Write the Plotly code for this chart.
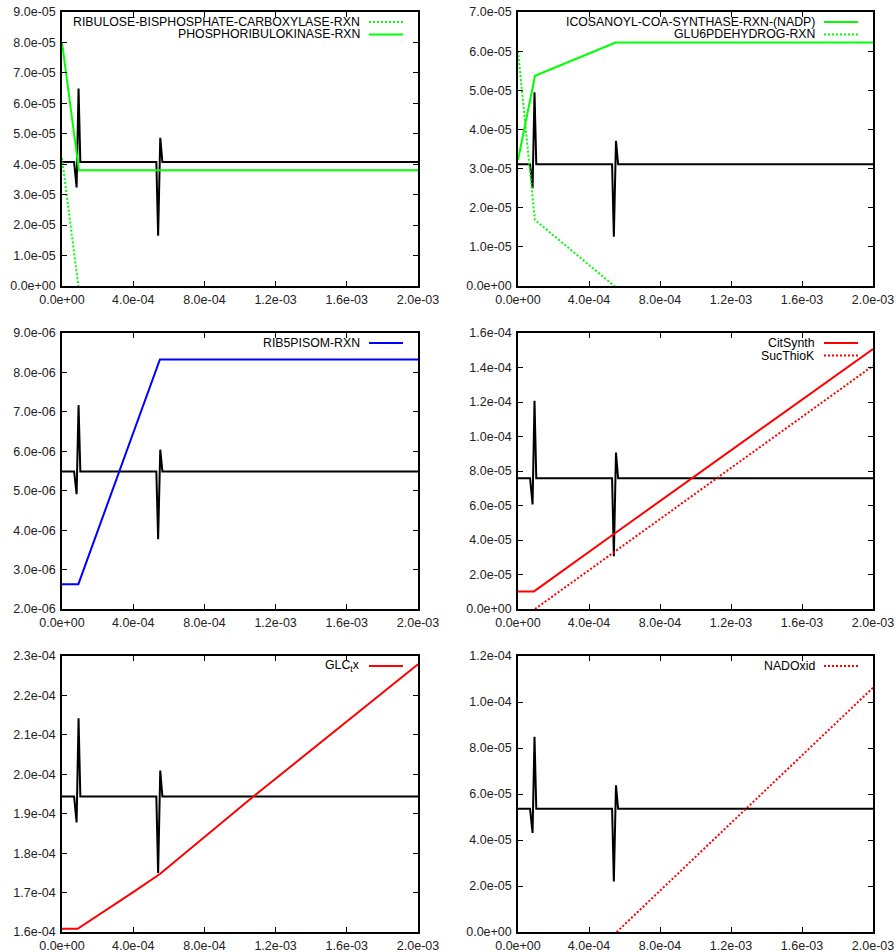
import numpy as np
import plotly.graph_objects as go
from plotly.subplots import make_subplots

# ---------------- data ----------------
t_ref = [0, 6.8e-5, 8.2e-5, 9.3e-5, 1.03e-4, 5.3e-4, 5.4e-4, 5.52e-4, 5.64e-4, 2.0e-3]

ref_p1 = [4.07e-5, 4.07e-5, 3.24e-5, 6.49e-5, 4.07e-5, 4.07e-5, 1.65e-5, 4.87e-5, 4.07e-5, 4.07e-5]
ref_p2 = [3.11e-5, 3.11e-5, 2.50e-5, 4.95e-5, 3.11e-5, 3.11e-5, 1.26e-5, 3.71e-5, 3.11e-5, 3.11e-5]
ref_p3 = [5.49e-6, 5.49e-6, 4.91e-6, 7.17e-6, 5.49e-6, 5.49e-6, 3.77e-6, 6.04e-6, 5.49e-6, 5.49e-6]
ref_p4 = [7.58e-5, 7.58e-5, 6.06e-5, 1.207e-4, 7.58e-5, 7.58e-5, 3.06e-5, 9.07e-5, 7.58e-5, 7.58e-5]
ref_p5 = [1.9435e-4, 1.9435e-4, 1.8777e-4, 2.142e-4, 1.9435e-4, 1.9435e-4, 1.7495e-4, 2.0094e-4, 1.9435e-4, 1.9435e-4]
ref_p6 = [5.355e-5, 5.355e-5, 4.31e-5, 8.49e-5, 5.355e-5, 5.355e-5, 2.20e-5, 6.38e-5, 5.355e-5, 5.355e-5]

rubisco_t = [0, 9.5e-5]
rubisco_v = [4.2e-5, -0.14e-5]
prk_t = [0, 9.5e-5, 2.0e-3]
prk_v = [8.0e-5, 3.8e-5, 3.8e-5]

icosanoyl_t = [0, 9.6e-5, 5.5e-4, 2.0e-3]
icosanoyl_v = [3.22e-5, 5.37e-5, 6.22e-5, 6.22e-5]
g6pdh_t = [0, 9.5e-5, 5.5e-4]
g6pdh_v = [6.0e-5, 1.69e-5, -0.03e-5]

rib5p_t = [0, 9.2e-5, 5.5e-4, 2.0e-3]
rib5p_v = [2.63e-6, 2.63e-6, 8.33e-6, 8.33e-6]

citsynth_t = [0, 9.0e-5, 5.5e-4, 2.0e-3]
citsynth_v = [1.02e-5, 1.02e-5, 4.42e-5, 1.507e-4]
sucthiok_t = [9.6e-5, 5.5e-4, 2.0e-3]
sucthiok_v = [0.0, 3.35e-5, 1.41e-4]

glc_t = [0, 8.8e-5, 4.0e-4, 5.5e-4, 1.075e-3, 2.0e-3]
glc_v = [1.608e-4, 1.608e-4, 1.701e-4, 1.747e-4, 1.9435e-4, 2.279e-4]

nadoxid_t = [5.56e-4, 2.0e-3]
nadoxid_v = [0.0, 1.062e-4]

x_ticks = [0, 4e-4, 8e-4, 1.2e-3, 1.6e-3, 2.0e-3]
y_ranges = [(0, 9e-5, 1e-5), (0, 7e-5, 1e-5), (2e-6, 9e-6, 1e-6),
            (0, 1.6e-4, 2e-5), (1.6e-4, 2.3e-4, 1e-5), (0, 1.2e-4, 2e-5)]

GREEN = "#00ff00"
BLUE = "#0000ff"
RED = "#ff0000"

panels = [
    dict(ref=ref_p1, series=[("RIBULOSE-BISPHOSPHATE-CARBOXYLASE-RXN", rubisco_t, rubisco_v, GREEN, "dot"),
                             ("PHOSPHORIBULOKINASE-RXN", prk_t, prk_v, GREEN, "solid")]),
    dict(ref=ref_p2, series=[("ICOSANOYL-COA-SYNTHASE-RXN-(NADP)", icosanoyl_t, icosanoyl_v, GREEN, "solid"),
                             ("GLU6PDEHYDROG-RXN", g6pdh_t, g6pdh_v, GREEN, "dot")]),
    dict(ref=ref_p3, series=[("RIB5PISOM-RXN", rib5p_t, rib5p_v, BLUE, "solid")]),
    dict(ref=ref_p4, series=[("CitSynth", citsynth_t, citsynth_v, RED, "solid"),
                             ("SucThioK", sucthiok_t, sucthiok_v, RED, "dot")]),
    dict(ref=ref_p5, series=[("GLC<sub>t</sub>x", glc_t, glc_v, RED, "solid")]),
    dict(ref=ref_p6, series=[("NADOxid", nadoxid_t, nadoxid_v, RED, "dot")]),
]

# ---------------- layout geometry ----------------
W, H = 895, 952
cols_px = [(62, 418), (518, 873)]
rows_px = [(12, 286), (333, 609), (656, 932)]
DOT = "2px,2px"
FONT = "Liberation Sans, Arial, sans-serif"

fig = make_subplots(rows=3, cols=2)

annotations = []
shapes = []
for i, p in enumerate(panels):
    r, c = i // 2, i % 2
    x0p, x1p = cols_px[c]
    y0p, y1p = rows_px[r]
    xdom = [x0p / W, x1p / W]
    ydom = [1 - y1p / H, 1 - y0p / H]
    axn = "" if i == 0 else str(i + 1)

    fig.add_trace(go.Scatter(x=t_ref, y=p["ref"], mode="lines",
                             line=dict(color="black", width=2), showlegend=False,
                             hoverinfo="skip"), row=r + 1, col=c + 1)
    for k, (name, tx, vy, col, dash) in enumerate(p["series"]):
        fig.add_trace(go.Scatter(x=tx, y=vy, mode="lines", name=name,
                                 line=dict(color=col, width=2,
                                           dash=DOT if dash == "dot" else "solid"),
                                 showlegend=False), row=r + 1, col=c + 1)
        pw, ph = x1p - x0p, y1p - y0p
        yrow = 1 - (10 + 12.5 * k) / ph
        annotations.append(dict(xref=f"x{axn} domain", yref=f"y{axn} domain",
                                x=(pw - 56) / pw, y=yrow, xanchor="right", yanchor="middle",
                                text=name, showarrow=False,
                                font=dict(family=FONT, size=12.3, color="black")))
        shapes.append(dict(type="line", xref=f"x{axn} domain", yref=f"y{axn} domain",
                           x0=(pw - 49) / pw, x1=(pw - 15) / pw, y0=yrow, y1=yrow,
                           line=dict(color=col, width=2,
                                     dash=DOT if dash == "dot" else "solid")))

    lo, hi, step = y_ranges[i]
    yt = np.arange(lo, hi + step / 2, step)
    common = dict(showline=True, linecolor="black", linewidth=1.5, mirror="ticks",
                  ticks="inside", ticklen=5, tickwidth=1, tickcolor="black",
                  showgrid=False, zeroline=False, automargin=False,
                  tickfont=dict(family=FONT, size=12.5, color="#222"))
    fig.update_xaxes(domain=xdom, range=[0, 2.0e-3], tickvals=x_ticks,
                     ticktext=[f"{v:.1e}" for v in x_ticks], ticklabelstandoff=1,
                     row=r + 1, col=c + 1, **common)
    fig.update_yaxes(domain=ydom, range=[lo, hi], tickvals=list(yt),
                     ticktext=[f"{v:.1e}" for v in yt], ticklabelstandoff=2,
                     row=r + 1, col=c + 1, **common)

fig.update_layout(width=W, height=H, margin=dict(l=0, r=0, t=0, b=0, autoexpand=False),
                  plot_bgcolor="white", paper_bgcolor="white",
                  annotations=annotations, shapes=shapes, showlegend=False,
                  font=dict(family=FONT))

fig.write_html("out.html")
